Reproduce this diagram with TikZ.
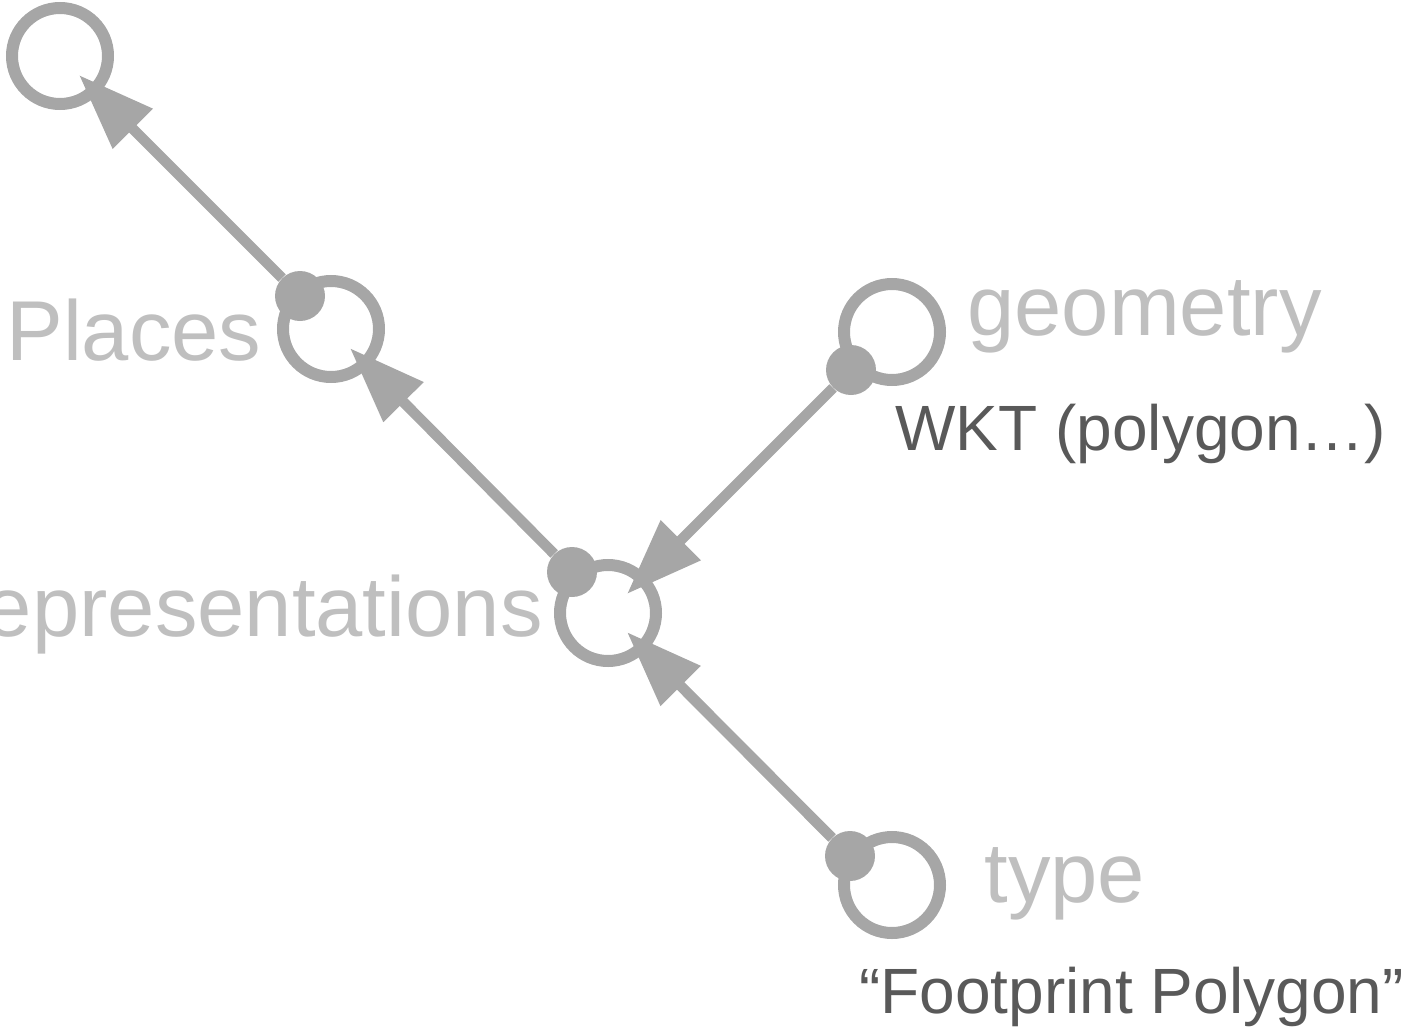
\documentclass[tikz,border=0pt]{standalone}
\usepackage{fontspec}
\setmainfont{Liberation Sans}
\usepackage{tikz}
\usetikzlibrary{arrows.meta,calc}
\definecolor{ringgray}{HTML}{A6A6A6}
\definecolor{namegray}{HTML}{BFBFBF}
\definecolor{valuegray}{HTML}{595959}
\tikzstyle{ring}=[circle, draw=ringgray, line width=6pt, minimum size=48pt, inner sep=0pt]
\tikzstyle{dot}=[circle, fill=ringgray, minimum size=25pt, inner sep=0pt]
\tikzstyle{propname}=[text=namegray, inner sep=0pt, font=\fontsize{42.5pt}{48pt}\selectfont]
\tikzstyle{propvalue}=[text=valuegray, inner sep=0pt, font=\fontsize{32pt}{38pt}\selectfont]
\tikzstyle{arrow}=[color=ringgray, line width=5.25pt, -{Triangle[length=38pt, width=27pt]}]

\begin{document}
\begin{tikzpicture}[x=0.5pt, y=-0.5pt]
	\useasboundingbox (0,0) rectangle (1426,1028);
	\begin{scope}
		\node (0) at (60,56)[ring] {};
		\node (1) at (331,329)[ring] {};
		\node (2) at (608,613)[ring] {};
		\node (3) at (892,332)[ring] {};
		\node (4) at (892,885)[ring] {};
		\node (5) at (300,296)[dot] {};
		\node (6) at (572,572)[dot] {};
		\node (7) at (851,370)[dot] {};
		\node (8) at (850,856)[dot] {};
	\end{scope}
	\begin{scope}
		\coordinate (t0) at ($(0)!13.5pt!(5)$);
		\coordinate (t1) at ($(1)!13.5pt!(6)$);
		\coordinate (t2) at ($(2)!13.5pt!(7)$);
		\coordinate (t3) at ($(2)!13.5pt!(8)$);
		\path [arrow] (5) edge (t0);
		\path [arrow] (6) edge (t1);
		\path [arrow] (7) edge (t2);
		\path [arrow] (8) edge (t3);
	\end{scope}
	\begin{scope}
		\node (places) at (6,360)[propname, anchor=base west] {Places};
		\node (reps) at (543,636)[propname, anchor=base east] {representations};
		\node (geom) at (967,335)[propname, anchor=base west] {geometry};
		\node (type) at (984,902)[propname, anchor=base west] {type};
		\node (wkt) at (895,450)[propvalue, anchor=base west] {WKT (polygon…)};
		\node (fp) at (859,1013)[propvalue, anchor=base west] {“Footprint Polygon”};
	\end{scope}
\end{tikzpicture}
\end{document}
